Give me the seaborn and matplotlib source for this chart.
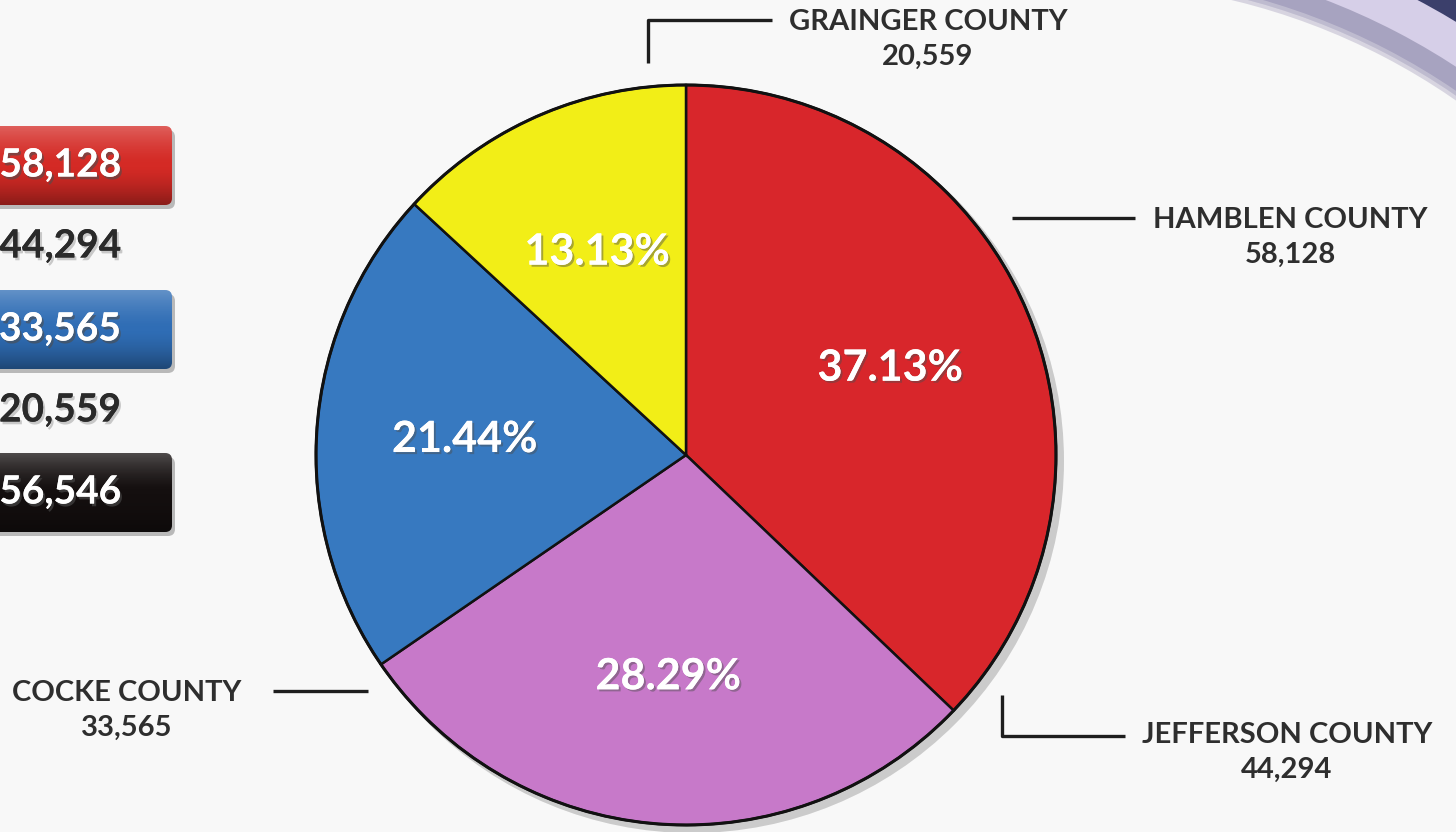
import numpy as np
import matplotlib
matplotlib.use("Agg")
import matplotlib.pyplot as plt
import matplotlib.patheffects as pe
from matplotlib.patches import FancyBboxPatch, Wedge, Circle
import seaborn as sns

# data
counties = ["HAMBLEN COUNTY", "JEFFERSON COUNTY", "COCKE COUNTY", "GRAINGER COUNTY"]
populations = [58128, 44294, 33565, 20559]
slice_colors = ["#d8262b", "#c779c9", "#3779c0", "#f2ee17"]

# left hand (cut off) summary column
legend_values = [58128, 44294, 33565, 20559, 156546]
legend_fill = ["#d42a25", None, "#2f6db5", None, "#140f0f"]

W, H = 1456, 832
BG = "#f8f8f8"
INK = "#2e2e2e"


def iy(y):
    # image row -> data y (axes run bottom-up)
    return H - y


def glossy_box(ax, x0, y_top, w, h, color):
    y0 = iy(y_top + h)
    shadow = FancyBboxPatch((x0 + 3, y0 - 4), w, h, boxstyle="round,pad=0,rounding_size=7",
                            fc="#000000", ec="none", alpha=0.25, zorder=2)
    ax.add_patch(shadow)
    box = FancyBboxPatch((x0, y0), w, h, boxstyle="round,pad=0,rounding_size=7",
                         fc=color, ec="none", zorder=3)
    ax.add_patch(box)
    # vertical sheen: light on top, darker at the bottom
    t = np.linspace(0, 1, 80)
    rgba = np.zeros((80, 2, 4))
    rgba[:, :, :3] = np.where(t[:, None, None] < 0.5, 1.0, 0.0)
    alpha = np.where(t < 0.5, 0.25 * (1 - t / 0.5) ** 1.5, 0.35 * ((t - 0.5) / 0.5) ** 1.5)
    rgba[:, :, 3] = alpha[:, None]
    im = ax.imshow(rgba, extent=(x0, x0 + w, y0, y0 + h), origin="upper",
                   aspect="auto", zorder=4, interpolation="bilinear")
    im.set_clip_path(box)


def main():
    sns.set_theme(style="white")
    plt.rcParams["font.family"] = ["Lato", "DejaVu Sans"]

    fig = plt.figure(figsize=(W / 100, H / 100), dpi=100, facecolor=BG)
    ax = fig.add_axes([0, 0, 1, 1])
    ax.set_facecolor(BG)

    # decorative swoosh in the top right corner
    sc = (1078, iy(644))
    ax.add_patch(Wedge(sc, 780, 35, 90, width=55, fc="#3b3f6b", ec="none", zorder=1))
    ax.add_patch(Wedge(sc, 728, 35, 90, width=62, fc="#d6cfe8", ec="none", zorder=1))
    ax.add_patch(Wedge(sc, 690, 35, 90, width=24, fc="#9c98b6", ec="none", alpha=0.8, zorder=1))
    ax.add_patch(Wedge(sc, 670, 35, 90, width=8, fc="#c9c6d6", ec="none", alpha=0.7, zorder=1))

    # pie
    cx, cy, r = 686, iy(455), 370
    ax.add_patch(Circle((cx + 6, cy - 6), r + 2, fc="#000000", alpha=0.18, ec="none", zorder=4))
    wedges, _, autotexts = ax.pie(
        populations, colors=slice_colors, startangle=90, counterclock=False,
        center=(cx, cy), radius=r, autopct=lambda p: f"{p:.2f}%", pctdistance=0.6,
        wedgeprops=dict(edgecolor="#111111", linewidth=1.8),
        textprops=dict(color="white", fontsize=31, fontweight="bold"),
    )
    for w in wedges:
        w.set_zorder(5)
    ax.add_patch(Circle((cx, cy), r, fc="none", ec="#111111", lw=2.2, zorder=6))
    for t in autotexts:
        t.set_zorder(7)
        t.set_path_effects([pe.withSimplePatchShadow(offset=(1.5, -1.5), alpha=0.45), pe.Normal()])

    # county call-outs (label centre, leader line)
    callouts = {
        "GRAINGER COUNTY": ((928, 22), [(648, 63), (648, 20), (772, 20)]),
        "HAMBLEN COUNTY": ((1290, 220), [(1012, 218), (1135, 218)]),
        "JEFFERSON COUNTY": ((1287, 735), [(1002, 695), (1002, 736), (1125, 736)]),
        "COCKE COUNTY": ((127, 693), [(273, 691), (368, 691)]),
    }
    for name, pop in zip(counties, populations):
        (tx, ty), line = callouts[name]
        xs = [p[0] for p in line]
        ys = [iy(p[1]) for p in line]
        ax.plot(xs, ys, color="#1e1e1e", lw=2.4, solid_capstyle="butt", zorder=8)
        ax.text(tx, iy(ty), name, ha="center", va="center", fontsize=21,
                fontweight="bold", color=INK, zorder=8)
        ax.text(tx, iy(ty + 35), f"{pop:,}", ha="center", va="center", fontsize=21,
                fontweight="bold", color=INK, zorder=8)

    # left summary column
    rows_y = [165, 246, 329, 410, 492]
    for val, fill, y in zip(legend_values, legend_fill, rows_y):
        if fill is not None:
            glossy_box(ax, -40, y - 39, 212, 79, fill)
            col = "white"
            fx = [pe.withSimplePatchShadow(offset=(1.5, -2), alpha=0.6), pe.Normal()]
        else:
            col = "#2a2a2a"
            fx = [pe.withSimplePatchShadow(offset=(1.5, -2), shadow_rgbFace="#999999", alpha=0.5),
                  pe.Normal()]
        ax.text(121, iy(y), f"{val:,}", ha="right", va="center", fontsize=28,
                fontweight="bold", color=col, zorder=9, path_effects=fx)

    ax.set_xlim(0, W)
    ax.set_ylim(0, H)
    ax.set_aspect("equal")
    ax.axis("off")
    fig.savefig("out.png", dpi=100, facecolor=BG)
    plt.close(fig)


if __name__ == "__main__":
    main()
